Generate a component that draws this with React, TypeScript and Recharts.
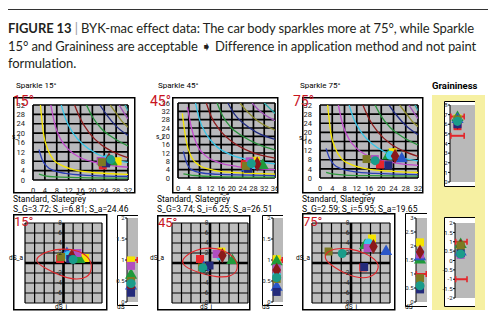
import React from 'react';
import { ScatterChart, Scatter, XAxis, YAxis, ZAxis, CartesianGrid, ReferenceLine, ReferenceArea } from 'recharts';

type Pt = [number, number];

const FONT = 'Roboto, "Noto Sans", Arial, sans-serif';

// samples, same order in every array below
const samples = ['Red', 'Yellow', 'Green', 'Blue', 'Cyan', 'Magenta', 'Maroon', 'Navy', 'Olive', 'Teal'];

// Sparkle maps: s_a (x) and s_i (y)
const sa15 = [23.5, 28.5, 26.5, 24.2, 25.0, 22.8, 25.6, 24.6, 23.2, 26.2];
const si15 = [6.2, 8.0, 7.8, 7.4, 9.0, 8.1, 8.6, 7.1, 7.6, 8.7];
const sa45 = [24.8, 28.9, 31.4, 25.5, 28.4, 26.6, 29.4, 26.0, 25.2, 27.2];
const si45 = [6.7, 8.3, 6.0, 4.8, 6.4, 8.0, 6.7, 4.4, 5.8, 6.9];
const sa75 = [19.6, 23.7, 22.3, 26.7, 23.0, 17.9, 24.5, 22.3, 15.2, 18.0];
const si75 = [5.9, 11.3, 9.6, 8.4, 10.0, 8.3, 9.6, 5.6, 8.3, 7.6];

// difference maps: dS_i (x) and dS_a (y)
const di15 = [-0.7, 4.5, 3.3, 0.7, 1.0, 2.9, 1.7, 1.4, -0.5, 2.0];
const da15 = [0.8, 1.0, 0.7, 1.9, 1.5, 2.0, 1.3, 0.8, 1.2, 0.7];
const di45 = [-2.1, 2.4, 4.7, -1.3, 2.2, 1.4, 2.6, -0.1, -1.7, -1.5];
const da45 = [0.8, 2.3, 0.5, -0.9, 1.4, 1.8, 1.5, -0.5, -0.9, -1.0];
const di75 = [2.5, 4.3, 2.9, 7.2, 3.6, 3.4, 4.6, 2.7, -4.6, -1.8];
const da75 = [-0.9, 4.9, 3.5, 2.3, 4.0, 3.0, 3.3, -0.8, 2.3, 1.9];

// dS columns
const ds15 = [0.3, 0.99, 0.64, 0.38, 0.45, 0.86, 0.35, 0.22, 0.5, 0.44];
const ds45 = [0.7, 1.02, 0.96, 0.35, 0.64, 0.8, 0.76, 0.24, 0.55, 0.58];
const ds75 = [0.52, 2.13, 1.5, 1.62, 1.75, 1.7, 1.79, 0.45, 0.85, 0.58];
const dsLimits = [1];

// graininess
const grain = [5.8, 6.6, 6.7, 6.5, 6.4, 6.1, 6.2, 6.0, 6.5, 6.3];
const grainLimits = [6.8, 4.8];
const dGrain = [0.7, 0.6, 0.85, 0.45, 0.5, 0.3, 0.75, 0.4, 0.8, 0.35];
const dGrainLimits = [1, -1];

const stats15 = 'S_G=3.72; S_i=6.81; S_a=24.46';
const stats45 = 'S_G=3.74; S_i=6.25; S_a=26.51';
const stats75 = 'S_G=2.59; S_i=5.95; S_a=19.65';

// tick labels
const ticks32 = [0, 4, 8, 12, 16, 20, 24, 28, 32];
const ticks36 = [0, 4, 8, 12, 16, 20, 24, 28, 32, 36];
const ticksDiff = [-8, -6, -4, -2, 0, 2, 4, 6, 8];
const ticksDs2 = [0, 0.5, 1, 1.5, 2];
const ticksDs3 = [0, 0.5, 1, 1.5, 2, 2.5, 3];
const ticksG = [0, 1, 2, 3, 4, 5, 6, 7, 8];
const ticksDG = [-2, -1.5, -1, -0.5, 0, 0.5, 1, 1.5, 2];

// iso lines of the sparkle maps
const iso32: Pt[][] = [
  [[2, 2.5], [4, 1.8], [8, 1.3], [16, 1], [32, 0.8]],
  [[2, 13], [3, 9], [4.5, 6], [7, 4], [11, 2.8], [18, 2], [32, 1.5]],
  [[2.5, 32], [3.5, 20], [5, 13], [7, 8.5], [10, 6], [14, 4.3], [20, 3.2], [32, 2.4]],
  [[6, 32], [7.5, 23], [9.5, 17], [12, 13], [16, 9.5], [21, 7.5], [26, 6.3], [32, 5.5]],
  [[9.5, 32], [11, 26], [13.5, 20], [17, 15], [21, 11.5], [26, 9], [32, 7.5]],
  [[14, 32], [16, 26], [19, 20], [23, 15], [27, 12], [32, 9.5]],
  [[18, 32], [20, 27], [23, 22], [27, 18], [32, 14.5]],
  [[22.5, 32], [25, 27.5], [28, 23], [32, 19]],
  [[26, 32], [28, 28.5], [30, 25], [32, 22.5]],
  [[29, 32], [30.5, 29], [32, 26]],
  [[31, 32], [32, 29.5]],
];
const iso36: Pt[][] = [
  [[2, 2], [6, 1.2], [14, 0.7], [36, 0.4]],
  [[2, 12.8], [3, 8], [5, 4], [9, 2.4], [16, 1.7], [36, 1.2]],
  [[1.6, 31], [3, 18], [5, 10], [8, 6], [13, 3.8], [20, 2.7], [36, 1.9]],
  [[3.5, 34], [5, 24], [7, 16], [10, 11], [15, 7.5], [22, 5.5], [36, 4]],
  [[6.5, 36], [8, 28], [10.5, 21], [14, 15.5], [19, 11.5], [26, 8.8], [36, 6.8]],
  [[10.5, 36], [12.5, 29], [15.5, 23], [20, 17.5], [27, 12.5], [36, 9.5]],
  [[14.5, 36], [16.5, 30], [19.5, 24.5], [24, 20], [30, 16], [36, 13.5]],
  [[18.5, 36], [21, 30.5], [24.5, 26], [29, 22], [36, 18.5]],
  [[23, 36], [26, 31.5], [30, 27], [36, 23]],
  [[27.5, 36], [30.5, 32], [36, 27.5]],
  [[32, 36], [34, 33.5], [36, 31]],
];

// tolerance ellipses
const ellipse15: Pt[] = [[-5.8, 1.1], [-3, 2.5], [0, 2.9], [3.3, 2.5], [5.5, 1], [6, -1.1], [5.1, -3], [2.1, -3.4], [-0.8, -2.5], [-3.7, -1.1], [-5.5, 0]];
const ellipse45: Pt[] = [[-6.2, 0.8], [-2.9, 2.8], [0, 3.1], [2.9, 2.7], [5.5, 0.9], [6, -1.2], [4.7, -2.7], [1.4, -2.9], [-2.2, -2], [-5.5, -0.8]];
const ellipse75: Pt[] = [[-5.5, 1.8], [-3.6, 2.9], [-0.5, 3], [3, 2], [5.6, 0.3], [5.7, -1.4], [4.1, -3], [0.9, -3], [-2.6, -1.4], [-5.2, 0.3]];

const isoColors = ['#2e9a3c', '#2b3fb5', '#f4e500', '#c24ccc', '#38c6e8', '#8b1a1a', '#26913a', '#1f2a80', '#8c8a2a', '#a050b8', '#2aa8a8'];
const sampleFill = ['#e8262b', '#f5e400', '#1f9a3a', '#2a56c8', '#38c6e8', '#b04fc0', '#8b1a1a', '#232a7a', '#7d7a22', '#1a9c8a'];
const sampleShape: any[] = ['square', 'square', 'triangle', 'triangle', 'circle', 'square', 'diamond', 'square', 'square', 'circle'];

const toXY = (pts: Pt[]) => pts.map(([x, y]) => ({ x, y }));
const NoDot = () => <g />;
const Cap = (p: any) => <rect x={p.cx - 0.8} y={p.cy - 3} width={1.6} height={6} fill="#e3262b" />;
const tickStyle = { fontSize: 7.5, fill: '#222', fontFamily: FONT };

const markerSeries = (xs: number[], ys: number[], prefix: string) =>
  samples.map((name, i) => (
    <Scatter key={prefix + name} name={name} data={[{ x: xs[i], y: ys[i] }]} fill={sampleFill[i]}
      shape={sampleShape[i]} isAnimationActive={false} />
  ));

function SparkleChart(p: any) {
  return (
    <div style={{ position: 'absolute', left: p.left, top: p.top }}>
      <ScatterChart width={p.width} height={p.height} margin={p.margin}>
        <CartesianGrid stroke="#000" strokeWidth={1.7} fill="#b9b9bc" fillOpacity={1} />
        <XAxis type="number" dataKey="x" domain={[0, p.max]} ticks={p.ticks} interval={0} height={11}
          tickLine={false} axisLine={false} tickMargin={1.5} tick={tickStyle} allowDataOverflow />
        <YAxis type="number" dataKey="y" domain={[0, p.max]} ticks={p.ticks} interval={0} width={p.yW}
          tickLine={false} axisLine={false} tickMargin={2} tick={tickStyle} allowDataOverflow />
        <ZAxis range={[22, 22]} />
        {p.iso.map((pts: Pt[], i: number) => (
          <Scatter key={'iso' + i} data={toXY(pts)} fill={isoColors[i]} shape={NoDot}
            line={{ stroke: isoColors[i], strokeWidth: 1.3 }} lineJointType="monotoneX" isAnimationActive={false} />
        ))}
        {markerSeries(p.xs, p.ys, 'm')}
      </ScatterChart>
    </div>
  );
}

function DiffChart(p: any) {
  const plotW = p.width - p.margin.left - p.margin.right - 1;
  const plotH = p.height - p.margin.top - p.margin.bottom;
  const xTick = (t: any) => (
    <text x={t.x} y={t.y - plotH / 2 + 7} textAnchor="middle" fontSize={6.5} fill="#222" fontFamily={FONT}>{t.payload.value}</text>
  );
  const yTick = (t: any) => t.payload.value === 0 ? <g /> : (
    <text x={t.x + plotW / 2 - 1.5} y={t.y + 2.3} textAnchor="end" fontSize={6.5} fill="#222" fontFamily={FONT}>{t.payload.value}</text>
  );
  return (
    <div style={{ position: 'absolute', left: p.left, top: p.top }}>
      <ScatterChart width={p.width} height={p.height} margin={p.margin}>
        <CartesianGrid stroke="#000" strokeWidth={1.2} fill="#bdbdbd" fillOpacity={1} />
        <XAxis type="number" dataKey="x" domain={[-8, 8]} ticks={ticksDiff} interval={0} height={0}
          tickLine={false} axisLine={false} tickSize={0} tickMargin={0} tick={xTick} />
        <YAxis type="number" dataKey="y" domain={[-8, 8]} ticks={ticksDiff} interval={0} width={1}
          tickLine={false} axisLine={false} tickSize={0} tickMargin={0} tick={yTick} />
        <ZAxis range={[22, 22]} />
        <ReferenceLine x={0} stroke="#000" strokeWidth={2.6} />
        <ReferenceLine y={0} stroke="#000" strokeWidth={2.6} />
        {markerSeries(p.xs, p.ys, 'd')}
        <Scatter data={toXY(p.ellipse)} fill="#e3262b" shape={NoDot}
          line={{ stroke: '#e3262b', strokeWidth: 1.1 }} lineJointType="basisClosed" isAnimationActive={false} />
      </ScatterChart>
    </div>
  );
}

function ColumnChart(p: any) {
  const xs = samples.map(() => p.markerX);
  return (
    <div style={{ position: 'absolute', left: p.left, top: p.top }}>
      <ScatterChart width={p.width} height={p.height} margin={p.margin}>
        <XAxis type="number" dataKey="x" domain={[0, 3]} hide />
        <YAxis type="number" dataKey="y" domain={p.domain} ticks={p.ticks} interval={0} width={p.yW}
          axisLine={{ stroke: '#000' }} tickLine={{ stroke: '#000' }} tickSize={2} tickMargin={0.5}
          tick={{ fontSize: 6, fill: '#222', fontFamily: FONT }} />
        <ZAxis range={[18, 18]} />
        <ReferenceArea x1={0} x2={3} y1={p.domain[0]} y2={p.domain[1]} fill="#b9b9b9" fillOpacity={1} stroke="none" />
        {p.limits.map((v: number, i: number) => (
          <Scatter key={'lim' + i} data={[{ x: p.barFrom, y: v }, { x: p.barTo, y: v }]} fill="#e3262b" shape={Cap}
            line={{ stroke: '#e3262b', strokeWidth: 2 }} isAnimationActive={false} />
        ))}
        {markerSeries(xs, p.values, 'c')}
      </ScatterChart>
    </div>
  );
}

const red = '#c8141e';
const titleFont = { fontFamily: 'Lato, sans-serif', fontSize: 13, letterSpacing: -0.1, fill: '#231f20' };

export default function App() {
  return (
    <div style={{ position: 'absolute', left: 0, top: 0, width: 500, height: 321, background: '#fff', overflow: 'hidden' }}>
      <svg width={500} height={321} style={{ position: 'absolute', left: 0, top: 0 }}>
        <rect x={8} y={9} width={480} height={1} fill="#333" />
        <rect x={432} y={95} width={53} height={215} fill="#f6f0a2" />
        <rect x={444} y={101} width={31} height={86} fill="#fff" />
        <rect x={444} y={217} width={31} height={90} fill="#fff" />
        <path d="M475 101.5H444.5V186.5H475 M475 217.5H444.5V306.5H475" stroke="#000" strokeWidth={1} fill="none" />
        <rect x={13.75} y={97.75} width={121} height={95} fill="#fff" stroke="#000" strokeWidth={1.5} />
        <rect x={172.75} y={97.75} width={105} height={95} fill="#fff" stroke="#000" strokeWidth={1.5} />
        <rect x={302.75} y={97.75} width={120} height={95} fill="#fff" stroke="#000" strokeWidth={1.5} />
        <rect x={13.75} y={214.75} width={93} height={95} fill="#fff" stroke="#000" strokeWidth={1.5} />
        <rect x={157.75} y={215.75} width={92} height={94} fill="#fff" stroke="#000" strokeWidth={1.5} />
        <rect x={302.75} y={213.75} width={92} height={96} fill="#fff" stroke="#000" strokeWidth={1.5} />
        <path d="M138 215.5H117.5V305.5H138 M283 215.5H262.5V305.5H283 M427 213.5H405.5V306.5H427" stroke="#000" strokeWidth={1} fill="none" />
      </svg>

      <SparkleChart left={13} top={97} width={122} height={100} margin={{ top: 8, right: 7, left: 0, bottom: 6 }}
        yW={20} max={32} ticks={ticks32} iso={iso32} xs={sa15} ys={si15} />
      <SparkleChart left={158} top={97} width={120} height={100} margin={{ top: 6, right: 3, left: 0, bottom: 8 }}
        yW={20} max={36} ticks={ticks36} iso={iso36} xs={sa45} ys={si45} />
      <SparkleChart left={302} top={97} width={121} height={100} margin={{ top: 8, right: 5, left: 0, bottom: 8 }}
        yW={18} max={32} ticks={ticks32} iso={iso32} xs={sa75} ys={si75} />

      <DiffChart left={13} top={214} width={94} height={96} margin={{ top: 9, right: 5, bottom: 7, left: 11 }}
        xs={di15} ys={da15} ellipse={ellipse15} />
      <DiffChart left={157} top={215} width={93} height={95} margin={{ top: 8, right: 2, bottom: 7, left: 14 }}
        xs={di45} ys={da45} ellipse={ellipse45} />
      <DiffChart left={302} top={213} width={93} height={97} margin={{ top: 10, right: 5, bottom: 7, left: 9 }}
        xs={di75} ys={da75} ellipse={ellipse75} />

      <ColumnChart left={113} top={215} width={25} height={90} margin={{ top: 3, right: 0, bottom: 3, left: 0 }}
        yW={14} domain={[0, 2]} ticks={ticksDs2} values={ds15} limits={dsLimits} markerX={1.1} barFrom={0.1} barTo={2.8} />
      <ColumnChart left={259} top={215} width={24} height={90} margin={{ top: 3, right: 0, bottom: 3, left: 0 }}
        yW={14} domain={[0, 2]} ticks={ticksDs2} values={ds45} limits={dsLimits} markerX={1.1} barFrom={0.1} barTo={2.8} />
      <ColumnChart left={402} top={213} width={25} height={93} margin={{ top: 5, right: 0, bottom: 4, left: 0 }}
        yW={14} domain={[0, 3]} ticks={ticksDs3} values={ds75} limits={dsLimits} markerX={1.1} barFrom={0.1} barTo={2.8} />

      <ColumnChart left={440} top={101} width={35} height={86} margin={{ top: 4, right: 0, bottom: 5, left: 0 }}
        yW={10} domain={[0, 8]} ticks={ticksG} values={grain} limits={grainLimits} markerX={0.9} barFrom={0.1} barTo={1.7} />
      <ColumnChart left={440} top={217} width={35} height={90} margin={{ top: 6, right: 0, bottom: 9, left: 0 }}
        yW={15} domain={[-2, 2]} ticks={ticksDG} values={dGrain} limits={dGrainLimits} markerX={0.85} barFrom={0.1} barTo={1.8} />

      <svg width={500} height={321} style={{ position: 'absolute', left: 0, top: 0, pointerEvents: 'none' }}
        fontFamily={FONT}>
        <text x={8} y={33.3} {...titleFont}>
          <tspan fontWeight="bold">FIGURE 13</tspan><tspan fill="#999"> | </tspan>
          <tspan>BYK-mac effect data: The car body sparkles more at 75°, while Sparkle</tspan>
        </text>
        <text x={8} y={50.7} {...titleFont}>
          15° and Graininess are acceptable ➧ Difference in application method and not paint
        </text>
        <text x={8} y={67.7} {...titleFont}>formulation.</text>

        <text x={16} y={88} fontSize={8}>Sparkle 15°</text>
        <text x={158} y={88} fontSize={8}>Sparkle 45°</text>
        <text x={300} y={88} fontSize={8}>Sparkle 75°</text>
        <text x={432} y={89} fontSize={9.5} fontWeight="bold">Graininess</text>

        <text x={13} y={106} fontSize={14} fill={red}>15°</text>
        <text x={150} y={106} fontSize={14} fill={red}>45°</text>
        <text x={293} y={106} fontSize={14} fill={red}>75°</text>

        <text x={12} y={139} fontSize={6.5}>s_i</text>
        <text x={156} y={139} fontSize={6.5}>s_i</text>
        <text x={299} y={140} fontSize={6.5}>s_i</text>
        <text x={76} y={195} fontSize={6}>s_a</text>
        <text x={220} y={195} fontSize={6}>s_a</text>
        <text x={362} y={195} fontSize={6}>s_a</text>

        <text x={13} y={201.5} fontSize={8.5}>Standard, Slategrey</text>
        <text x={157} y={201.5} fontSize={8.5}>Standard, Slategrey</text>
        <text x={302} y={201.5} fontSize={8.5}>Standard, Slategrey</text>
        <text x={13} y={212} fontSize={8.5}>{stats15}</text>
        <text x={157} y={212} fontSize={8.5}>{stats45}</text>
        <text x={302} y={212} fontSize={8.5}>{stats75}</text>

        <text x={14} y={226} fontSize={13} fill={red}>15°</text>
        <text x={158} y={227} fontSize={13} fill={red}>45°</text>
        <text x={303} y={226} fontSize={13} fill={red}>75°</text>

        <text x={9} y={260} fontSize={6.5}>dS_a</text>
        <text x={150} y={260} fontSize={6.5}>dS_a</text>
        <text x={296} y={260} fontSize={6.5}>dS_a</text>
        <text x={55} y={309} fontSize={6.5}>dS_i</text>
        <text x={200} y={309} fontSize={6.5}>dS_i</text>
        <text x={345} y={309} fontSize={6.5}>dS_i</text>
        <text x={117} y={309} fontSize={6.5}>dS</text>
        <text x={262} y={309} fontSize={6.5}>dS</text>
        <text x={405} y={309} fontSize={6.5}>dS</text>
      </svg>
    </div>
  );
}
